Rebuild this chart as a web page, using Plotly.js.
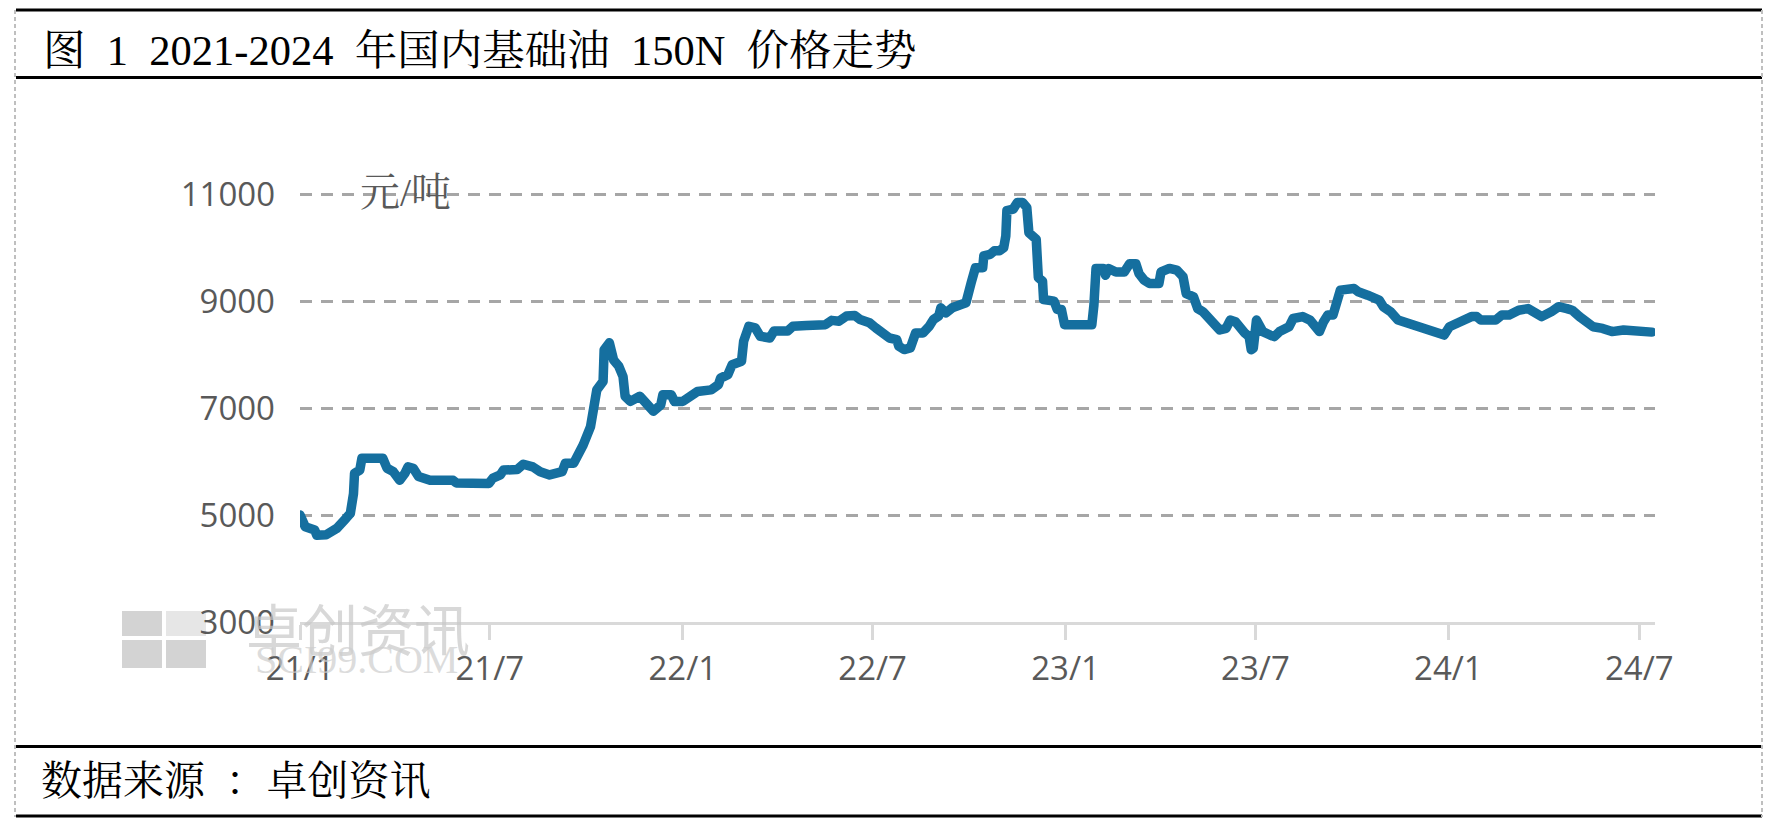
<!DOCTYPE html>
<html><head><meta charset="utf-8">
<script src="https://cdn.plot.ly/plotly-3.0.1.min.js"></script>
<style>html,body{margin:0;padding:0;background:#fff;}#chart{width:1774px;height:830px;}
.js-line{stroke-linejoin:round;stroke-linecap:round;}</style>
</head><body><div id="chart"></div>
<script>
const dates = [
'2021-01-01','2021-01-06','2021-01-15','2021-01-17','2021-01-26','2021-02-05','2021-02-14','2021-02-18','2021-02-21','2021-02-22',
'2021-02-27','2021-03-01','2021-03-21','2021-03-25','2021-03-31','2021-04-06','2021-04-11','2021-04-14','2021-04-19','2021-04-24',
'2021-05-05','2021-05-27','2021-05-30','2021-06-12','2021-06-22','2021-06-30','2021-07-04','2021-07-11','2021-07-14','2021-07-27',
'2021-08-02','2021-08-11','2021-08-18','2021-08-27','2021-09-08','2021-09-11','2021-09-19','2021-09-25','2021-09-28','2021-10-05',
'2021-10-09','2021-10-11','2021-10-17','2021-10-18','2021-10-23','2021-10-27','2021-11-01','2021-11-05','2021-11-07','2021-11-12',
'2021-11-21','2021-11-27','2021-12-04','2021-12-11','2021-12-13','2021-12-21','2021-12-24','2022-01-01','2022-01-06','2022-01-15',
'2022-01-28','2022-02-04','2022-02-06','2022-02-13','2022-02-17','2022-02-26','2022-02-28','2022-03-05','2022-03-11','2022-03-16',
'2022-03-25','2022-03-29','2022-04-11','2022-04-16','2022-04-29','2022-05-12','2022-05-17','2022-05-23','2022-05-30','2022-06-06',
'2022-06-14','2022-06-19','2022-06-28','2022-07-04','2022-07-11','2022-07-17','2022-07-24','2022-07-26','2022-07-31','2022-08-06',
'2022-08-11','2022-08-18','2022-08-24','2022-08-28','2022-09-02','2022-09-04','2022-09-09','2022-09-15','2022-09-24','2022-09-28',
'2022-10-03','2022-10-07','2022-10-14','2022-10-15','2022-10-21','2022-10-25','2022-10-30','2022-11-03','2022-11-05','2022-11-06',
'2022-11-12','2022-11-16','2022-11-21','2022-11-25','2022-11-27','2022-12-04','2022-12-06','2022-12-10','2022-12-11','2022-12-21',
'2022-12-24','2022-12-28','2022-12-31','2023-01-26','2023-01-28','2023-01-30','2023-02-06','2023-02-08','2023-02-11','2023-02-18',
'2023-02-26','2023-03-03','2023-03-09','2023-03-12','2023-03-17','2023-03-22','2023-03-31','2023-04-02','2023-04-10','2023-04-17',
'2023-04-23','2023-04-26','2023-05-03','2023-05-07','2023-05-12','2023-05-16','2023-05-23','2023-05-28','2023-06-03','2023-06-07',
'2023-06-12','2023-06-16','2023-06-21','2023-06-25','2023-06-27','2023-06-29','2023-07-02','2023-07-08','2023-07-15','2023-07-19',
'2023-07-24','2023-07-30','2023-08-02','2023-08-06','2023-08-15','2023-08-22','2023-08-26','2023-08-31','2023-09-04','2023-09-08',
'2023-09-13','2023-09-17','2023-09-20','2023-10-03','2023-10-07','2023-10-16','2023-10-27','2023-10-31','2023-11-07','2023-11-14',
'2023-11-23','2023-11-29','2023-12-04','2023-12-13','2023-12-23','2023-12-28','2024-01-02','2024-01-13','2024-01-23','2024-01-28',
'2024-02-01','2024-02-15','2024-02-21','2024-02-28','2024-03-08','2024-03-17','2024-03-23','2024-03-30','2024-04-08','2024-04-15',
'2024-04-23','2024-04-28','2024-05-05','2024-05-12','2024-05-18','2024-05-27','2024-06-05','2024-06-16','2024-06-27','2024-07-04',
'2024-07-10','2024-07-13'
];
const prices = [
5000,4780,4720,4620,4630,4750,4940,5030,5400,5780,
5840,6060,6060,5875,5810,5650,5780,5900,5875,5720,
5650,5650,5600,5590,5560,5590,5690,5750,5840,5850,
5950,5900,5810,5750,5810,5970,5970,6160,6310,6650,
7030,7340,7500,8090,8220,7900,7780,7590,7220,7125,
7220,7090,6940,7060,7250,7250,7125,7125,7190,7310,
7340,7440,7560,7625,7810,7875,8250,8530,8500,8340,
8310,8440,8440,8530,8545,8530,8560,8640,8625,8720,
8730,8655,8595,8500,8405,8310,8280,8155,8094,8125,
8405,8405,8530,8655,8720,8875,8780,8875,8940,8970,
9345,9625,9625,9845,9875,9940,9940,10000,10220,10690,
10720,10845,10845,10750,10280,10155,9440,9375,9030,9000,
8845,8845,8560,8560,8925,9610,9610,9485,9610,9545,
9545,9700,9700,9515,9390,9330,9330,9545,9610,9580,
9455,9140,9080,8860,8800,8710,8615,8460,8490,8645,
8615,8490,8400,8335,8090,8120,8645,8430,8365,8335,
8430,8490,8520,8675,8710,8645,8520,8430,8615,8740,
8740,8990,9205,9235,9175,9110,9020,8895,8800,8645,
8585,8550,8490,8460,8365,8365,8520,8645,8710,8710,
8645,8645,8740,8740,8830,8860,8770,8710,8800,8895,
8860,8830,8710,8585,8520,8490,8430,8460,8430,8430,
8400,8420
];
const yTickVals = [3000, 5000, 7000, 9000, 11000];
const yTickText = ['3000', '5000', '7000', '9000', '11000'];
const xTickVals = ['2021-01-01','2021-07-01','2022-01-01','2022-07-01','2023-01-01','2023-07-01','2024-01-01','2024-07-01'];
const xTickText = ['21/1','21/7','22/1','22/7','23/1','23/7','24/1','24/7'];
const xRange = ['2021-01-01','2024-07-16'];
const yRange = [3000, 11040];
const titleText = '图\u20021\u20022021-2024\u2002年国内基础油\u2002150N\u2002价格走势';
const sourceText = '数据来源\u2002：卓创资讯';
const unitText = '元/吨';
const wmText = '卓创资讯';
const wmSub = 'SCI99.COM';

// layout geometry (pixels)
const W = 1774, H = 830, L = 300, R = 1655, T = 192, B = 622;
const px = x => (x - L) / (R - L);
const py = y => (B - y) / (B - T);

const serif = 'Liberation Serif, "Noto Serif CJK SC", "Noto Sans CJK SC", serif';
const sans = '"Open Sans", "Noto Sans CJK SC", sans-serif';

const hline = (y, w) => ({type:'line', xref:'paper', yref:'paper', x0:px(16), x1:px(1762), y0:py(y), y1:py(y), line:{color:'#000', width:w}});
const vdash = x => ({type:'line', xref:'paper', yref:'paper', x0:px(x), x1:px(x), y0:py(10), y1:py(817), line:{color:'#bfbfbf', width:2, dash:'4px,3px'}});
const box = (x0,y0,x1,y1,c) => ({type:'rect', layer:'below', xref:'paper', yref:'paper', x0:px(x0), x1:px(x1), y0:py(y1), y1:py(y0), line:{width:0}, fillcolor:c});

const shapes = [
  hline(10, 3), hline(77.5, 3), hline(746.5, 3), hline(816, 3),
  vdash(15), vdash(1762),
  box(122,611,162,636,'rgba(192,192,192,0.7)'), box(166,611,206,636,'rgba(210,210,210,0.55)'),
  box(122,640,162,668,'rgba(192,192,192,0.7)'), box(166,640,206,668,'rgba(192,192,192,0.7)')
];

const annotations = [
  {xref:'paper', yref:'paper', x:px(41), y:py(50), xanchor:'left', yanchor:'middle', showarrow:false,
   text:titleText, font:{family:serif, size:42.5, color:'#000'}},
  {xref:'paper', yref:'paper', x:px(39), y:py(781), xanchor:'left', yanchor:'middle', showarrow:false,
   text:sourceText, font:{family:serif, size:41, color:'#000'}},
  {xref:'paper', yref:'paper', x:px(358), y:py(192), xanchor:'left', yanchor:'middle', showarrow:false,
   text:unitText, font:{family:serif, size:40, color:'#595959'}},
  {xref:'paper', yref:'paper', x:px(358), y:py(626), xanchor:'center', yanchor:'middle', showarrow:false,
   text:wmText, font:{family:'"Noto Sans CJK SC", sans-serif', size:56, color:'rgba(200,200,200,0.7)'}},
  {xref:'paper', yref:'paper', x:px(356), y:py(659), xanchor:'center', yanchor:'middle', showarrow:false,
   text:wmSub, font:{family:'Liberation Serif, serif', size:40, color:'rgba(205,205,205,0.7)'}}
];

const trace = {
  type:'scatter', mode:'lines', x:dates, y:prices,
  line:{color:'#156f9f', width:9.5, shape:'linear'},
  hoverinfo:'skip'
};

const layout = {
  width:W, height:H,
  margin:{l:L, r:W-R, t:T, b:H-B, pad:0},
  paper_bgcolor:'#fff', plot_bgcolor:'rgba(0,0,0,0)',
  showlegend:false,
  xaxis:{type:'date', range:xRange, tickvals:xTickVals, ticktext:xTickText,
    showgrid:false, zeroline:false, showline:true, linecolor:'#d9d9d9', linewidth:3,
    ticks:'outside', ticklen:15, tickwidth:3, tickcolor:'#d9d9d9',
    tickfont:{family:sans, size:33, color:'#595959'}, ticklabelstandoff:0},
  yaxis:{range:yRange, tickvals:yTickVals, ticktext:yTickText, showgrid:true, gridcolor:'#a6a6a6', gridwidth:3, griddash:'12px,9px',
    zeroline:false, showline:false, ticks:'',
    tickfont:{family:sans, size:33, color:'#595959'}, ticklabelstandoff:24},
  shapes:shapes, annotations:annotations
};

Plotly.newPlot('chart', [trace], layout, {displayModeBar:false, staticPlot:true});
</script>
</body></html>
